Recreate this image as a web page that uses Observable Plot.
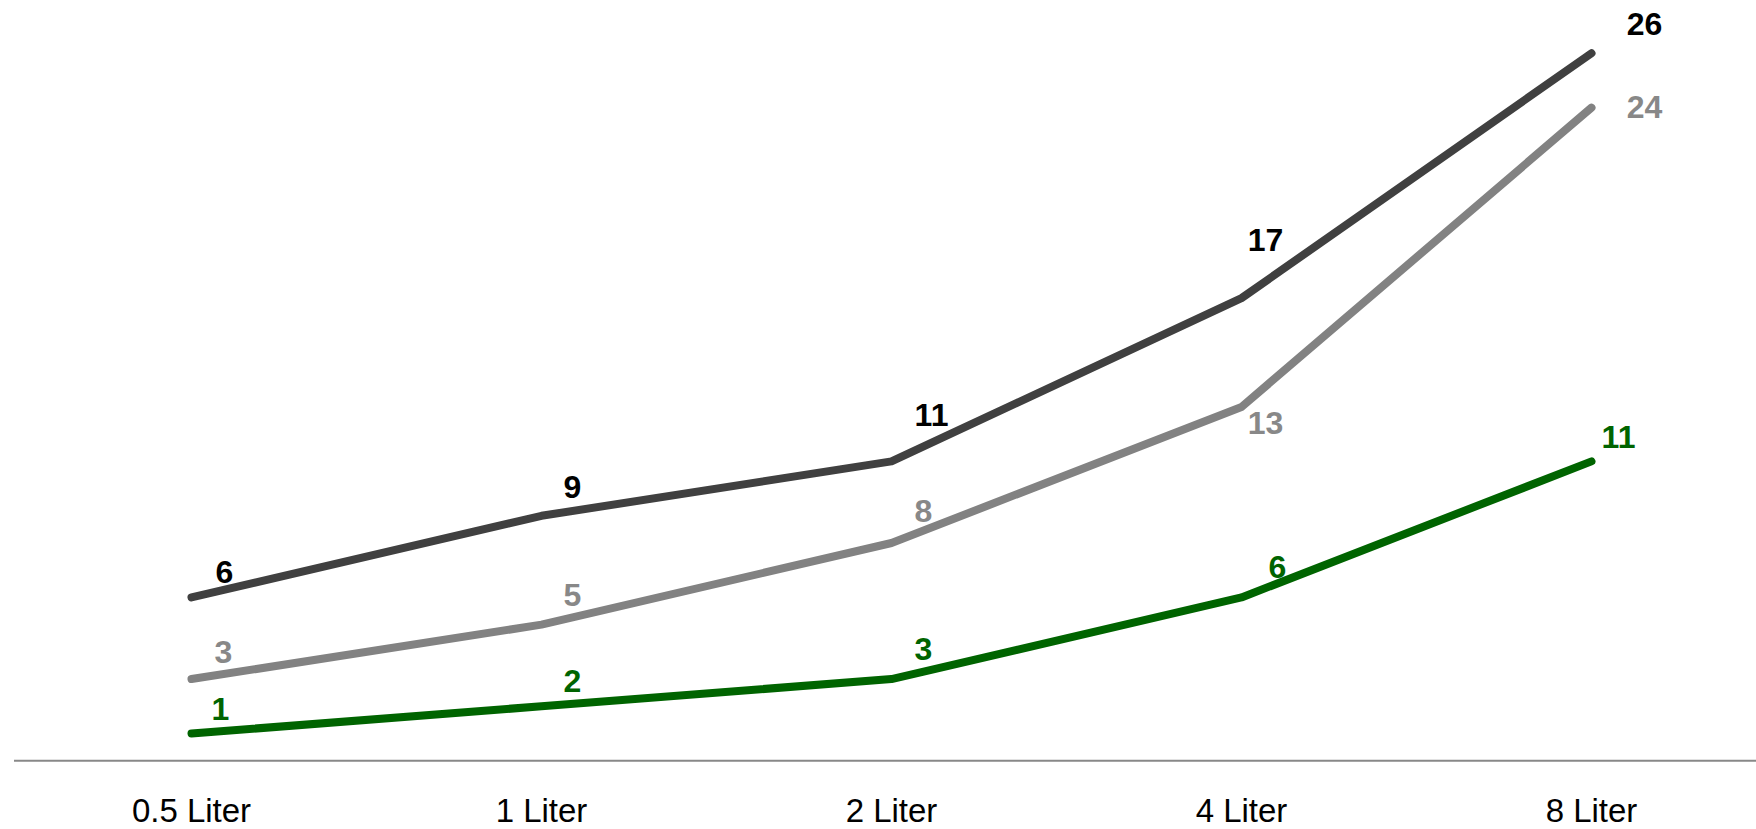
<!DOCTYPE html>
<html>
<head>
<meta charset="utf-8">
<script src="https://cdn.jsdelivr.net/npm/d3@7"></script>
<script src="https://cdn.jsdelivr.net/npm/@observablehq/plot@0.6"></script>
<style>
  html, body { margin: 0; padding: 0; background: #fff; }
  #chart svg { display: block; }
</style>
</head>
<body>
<div id="chart"></div>
<script>
// Container sizes along the x axis
const sizes = ["0.5 Liter", "1 Liter", "2 Liter", "4 Liter", "8 Liter"];

// Three series, one value per container size
const upperValues = [6, 9, 11, 17, 26];
const middleValues = [3, 5, 8, 13, 24];
const lowerValues = [1, 2, 3, 6, 11];

// Series styling: line colour and label colour
const seriesStyle = [
  {key: "upper", values: upperValues, line: "#404040", label: "#000000"},
  {key: "middle", values: middleValues, line: "#828282", label: "#888888"},
  {key: "lower", values: lowerValues, line: "#006400", label: "#006400"}
];

// Label nudges (px) so the value labels sit clear of the lines
const labelNudge = {
  upper:  [[33, -25], [31, -28], [40, -46], [24, -57], [53, -28]],
  middle: [[32, -26], [31, -29], [32, -31], [24, 17], [53, 0]],
  lower:  [[29, -24], [31, -25], [32, -29], [36, -30], [27, -24]]
};

const rows = seriesStyle.flatMap(s =>
  s.values.map((v, i) => ({
    series: s.key, size: sizes[i], value: v,
    line: s.line, label: s.label,
    dx: labelNudge[s.key][i][0], dy: labelNudge[s.key][i][1]
  }))
);

const W = 1756, H = 829;
const font = "'Liberation Sans', Arial, Helvetica, sans-serif";

const marks = [
  Plot.ruleY([0], {stroke: "#888888", strokeWidth: 2}),
  Plot.axisX({tickSize: 0, tickPadding: 38, fontSize: 33, fill: "#000", stroke: null, label: null}),
  ...seriesStyle.map(s =>
    Plot.line(rows.filter(d => d.series === s.key), {
      x: "size", y: "value", stroke: s.line, strokeWidth: 8,
      strokeLinecap: "round", strokeLinejoin: "round"
    })
  ),
  ...rows.map(d =>
    Plot.text([d], {
      x: "size", y: "value", text: r => String(r.value),
      fill: d.label, dx: d.dx, dy: d.dy,
      fontSize: 32, fontWeight: "bold"
    })
  )
];

const chart = Plot.plot({
  width: W,
  height: H,
  marginLeft: 14,
  marginRight: 0,
  marginTop: 0,
  marginBottom: 69,
  style: {fontFamily: font, background: "#fff"},
  x: {type: "point", domain: sizes, range: [190.4, 1591.4], padding: 0, label: null},
  y: {domain: [0, 26], range: [760.2, 52.7], axis: null},
  marks
});

document.getElementById("chart").appendChild(chart);
</script>
</body>
</html>
